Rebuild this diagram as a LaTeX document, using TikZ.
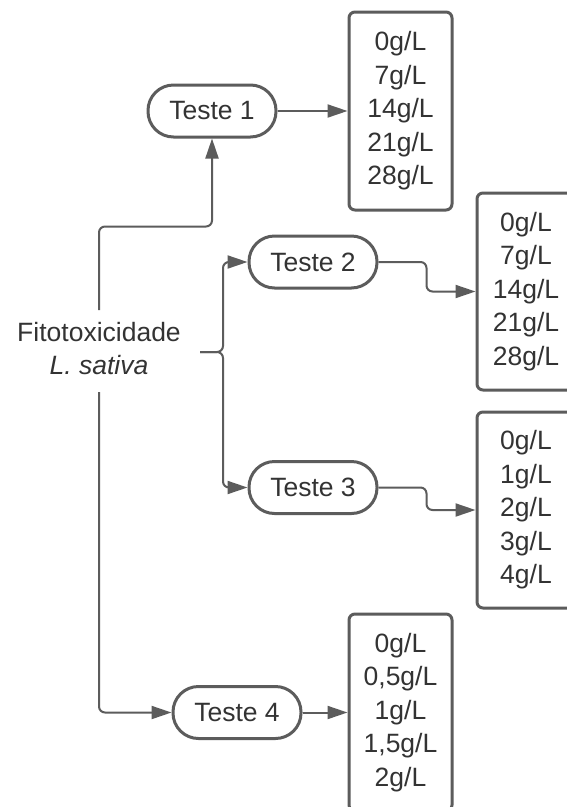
\documentclass[tikz,border=0pt]{standalone}
\usepackage{fontspec}
\setmainfont{Liberation Sans}
\usetikzlibrary{arrows.meta,calc}
\definecolor{linec}{HTML}{5C5C5C}
\definecolor{txtc}{HTML}{333333}
\tikzset{
  pill/.style={draw=linec, line width=3pt, rounded corners=25.5pt, minimum width=128pt, minimum height=52pt, inner sep=0pt, text=txtc, font=\fontsize{26.5}{33.5}\selectfont},
  valbox/.style={draw=linec, line width=3pt, rounded corners=6pt, minimum width=103pt, align=center, inner sep=0pt, text=txtc, font=\fontsize{26.5}{33.5}\selectfont},
  conn/.style={draw=linec, line width=2pt, rounded corners=6pt, -{Triangle[length=20pt,width=13pt]}},
  plainconn/.style={draw=linec, line width=2pt, rounded corners=6pt},
  lbl/.style={align=center, text=txtc, inner sep=0pt, font=\fontsize{26.5}{33}\selectfont}
}
\begin{document}
\begin{tikzpicture}[x=1pt,y=-1pt]
\useasboundingbox (0,0) rectangle (567,807);
\clip (0,0) rectangle (567,807);
\fill[white] (0,0) rectangle (567,807);

\node[lbl] (fito) at (99,348.5) {Fitotoxicidade\\\textit{L. sativa}};
\coordinate (ftop) at (99,310);
\coordinate (fbot) at (99,392);
\coordinate (fe) at (200,352);
\coordinate (trunk) at (223,352);

\node[pill] (t1) at (212,111) {Teste 1};
\node[pill] (t2) at (313,262) {Teste 2};
\node[pill] (t3) at (313,487.5) {Teste 3};
\node[pill] (t4) at (237,712.5) {Teste 4};

\node[valbox, minimum height=198pt] (b1) at (400.5,111) {0g/L\\7g/L\\14g/L\\21g/L\\28g/L};
\node[valbox, minimum height=197pt, minimum width=98pt] (b2) at (526,291.5) {0g/L\\7g/L\\14g/L\\21g/L\\28g/L};
\node[valbox, minimum height=196pt, minimum width=98pt] (b3) at (526,510) {0g/L\\1g/L\\2g/L\\3g/L\\4g/L};
\node[valbox, minimum height=197pt] (b4) at (400.5,712.5) {0g/L\\0,5g/L\\1g/L\\1,5g/L\\2g/L};

% connectors
\draw[conn] (ftop) |- ([yshift=-88pt]t1.south) -- (t1.south);
\draw[conn] (fbot) |- (t4.west);
\draw[conn] (fe) -- (trunk) |- (t2.west);
\draw[conn] (fe) -- (trunk) |- (t3.west);

\draw[conn] (t1.east) -- (t1.east -| b1.west);
\draw[conn] (t4.east) -- (t4.east -| b4.west);
\draw[conn] (t2.east) -- ++(48,0) |- (b2.west);
\draw[conn] (t3.east) -- ++(48,0) |- (b3.west);
\end{tikzpicture}
\end{document}
